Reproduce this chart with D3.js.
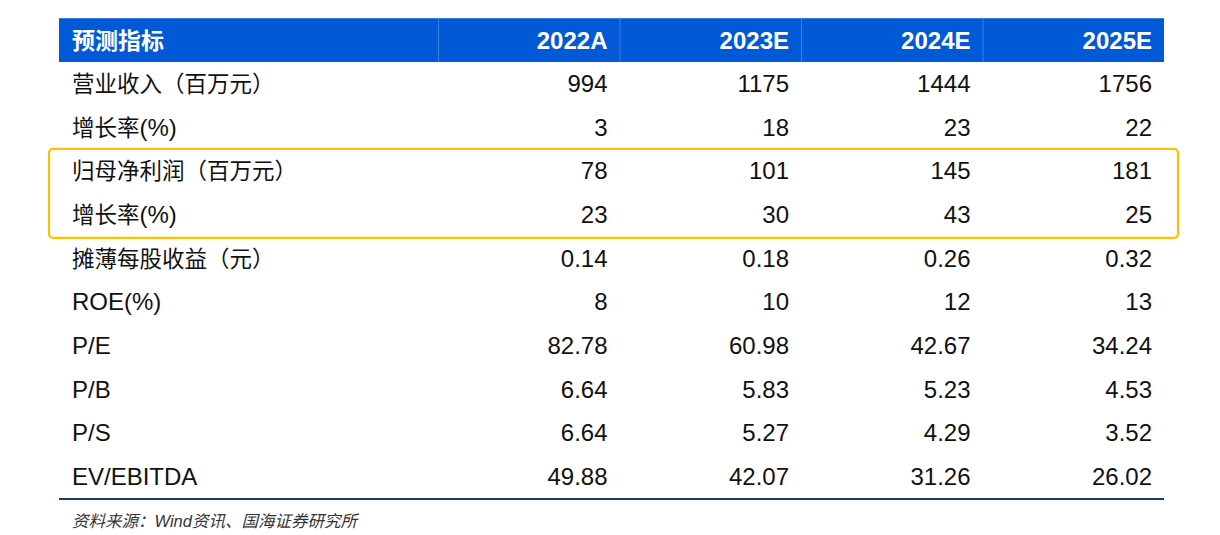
<!DOCTYPE html>
<html><head><meta charset="utf-8">
<script src="https://cdn.jsdelivr.net/npm/d3@7"></script>
<style>body{margin:0;background:#fff}svg{display:block}</style>
</head><body>
<script>
const headerLabel = "预测指标";
const years = ["2022A","2023E","2024E","2025E"];
const metrics = ["营业收入（百万元）","增长率(%)","归母净利润（百万元）","增长率(%) ","摊薄每股收益（元）","ROE(%)","P/E","P/B","P/S","EV/EBITDA"];
const v2022 = ["994","3","78","23","0.14","8","82.78","6.64","6.64","49.88"];
const v2023 = ["1175","18","101","30","0.18","10","60.98","5.83","5.27","42.07"];
const v2024 = ["1444","23","145","43","0.26","12","42.67","5.23","4.29","31.26"];
const v2025 = ["1756","22","181","25","0.32","13","34.24","4.53","3.52","26.02"];
const highlighted = ["归母净利润（百万元）","增长率(%) "];
const source = "资料来源：Wind资讯、国海证券研究所";

const values = [v2022, v2023, v2024, v2025];
const W = 1220, H = 535;
const svg = d3.select("body").append("svg").attr("width", W).attr("height", H);

const tableLeft = 59, labelRight = 438, tableRight = 1164;
const headerTop = 18, headerBottom = 62;
const x = d3.scaleBand().domain(years).range([labelRight, tableRight]).padding(0);
const y = d3.scaleBand().domain(metrics).range([headerBottom, 499]).padding(0);

const latinFont = "'Liberation Sans', Arial, sans-serif";
const cjkFont = "'Noto Sans CJK SC', sans-serif";

// split into runs; full-width parens get their own run so they can be centred in the em box
function mixedText(sel, str, latinSize, cjkSize) {
  const parts = str.trim().match(/[（）]|[\u3000-\u9fff\uff00-\uffef]+|[^\u3000-\u9fff\uff00-\uffef]+/g) || [];
  let carry = 0;
  parts.forEach(p => {
    const isCjk = /[\u3000-\u9fff\uff00-\uffef]/.test(p);
    let shift = 0;
    if (p === "（") shift = -0.3 * cjkSize;
    if (p === "）") shift = 0.34 * cjkSize;
    const dx = carry + shift;
    carry = -shift;
    const ts = sel.append("tspan").text(p)
      .attr("font-family", isCjk ? cjkFont : latinFont)
      .attr("font-size", isCjk ? cjkSize : latinSize);
    if (dx) ts.attr("dx", dx);
  });
}

// header
svg.append("rect").attr("x", tableLeft).attr("y", headerTop)
  .attr("width", tableRight - tableLeft).attr("height", headerBottom - headerTop)
  .attr("fill", "#005ad8");
svg.append("line").attr("x1", tableLeft).attr("x2", tableRight)
  .attr("y1", headerTop + 0.5).attr("y2", headerTop + 0.5)
  .attr("stroke", "#3d7fe2").attr("stroke-width", 1);
const seps = [labelRight].concat(years.slice(1).map(d => x(d)));
svg.selectAll("line.sep").data(seps).enter().append("line").attr("class","sep")
  .attr("x1", d => d + 0.5).attr("x2", d => d + 0.5)
  .attr("y1", headerTop).attr("y2", headerBottom)
  .attr("stroke", "#3d7fe2").attr("stroke-width", 1);

const hb = headerTop + (headerBottom - headerTop) / 2 + 8.5;
const ht = svg.append("text").attr("x", 72).attr("y", hb).attr("fill", "#fff").attr("font-weight", "bold");
mixedText(ht, headerLabel, 24, 23);
svg.selectAll("text.yr").data(years).enter().append("text").attr("class","yr")
  .attr("x", d => x(d) + x.bandwidth() - 12).attr("y", hb)
  .attr("text-anchor", "end").attr("fill", "#fff").attr("font-weight", "bold")
  .attr("font-family", latinFont).attr("font-size", 24).text(d => d);

// rows
const rowBase = d => y(d) + y.bandwidth() / 2 + 8;
metrics.forEach((m, i) => {
  const t = svg.append("text").attr("x", 72).attr("y", rowBase(m)).attr("fill", "#111");
  mixedText(t, m, 24, 22.5);
  years.forEach((yr, j) => {
    svg.append("text").attr("x", x(yr) + x.bandwidth() - 12).attr("y", rowBase(m))
      .attr("text-anchor", "end").attr("fill", "#111")
      .attr("font-family", latinFont).attr("font-size", 24).text(values[j][i]);
  });
});

// highlight box
const hy0 = y(highlighted[0]), hy1 = y(highlighted[1]) + y.bandwidth();
svg.append("rect").attr("x", 49).attr("y", hy0 - 0.5)
  .attr("width", 1178 - 49).attr("height", hy1 - hy0 + 1.5)
  .attr("rx", 4).attr("fill", "none").attr("stroke", "#ffc000").attr("stroke-width", 2.2);

// bottom rule
svg.append("line").attr("x1", tableLeft).attr("x2", tableRight)
  .attr("y1", 499).attr("y2", 499).attr("stroke", "#1f3a6e").attr("stroke-width", 2.2);

// source
const st = svg.append("text").attr("x", 72).attr("y", 527).attr("fill", "#333").attr("font-style", "italic");
mixedText(st, source, 16.5, 16.5);
</script>
</body></html>
